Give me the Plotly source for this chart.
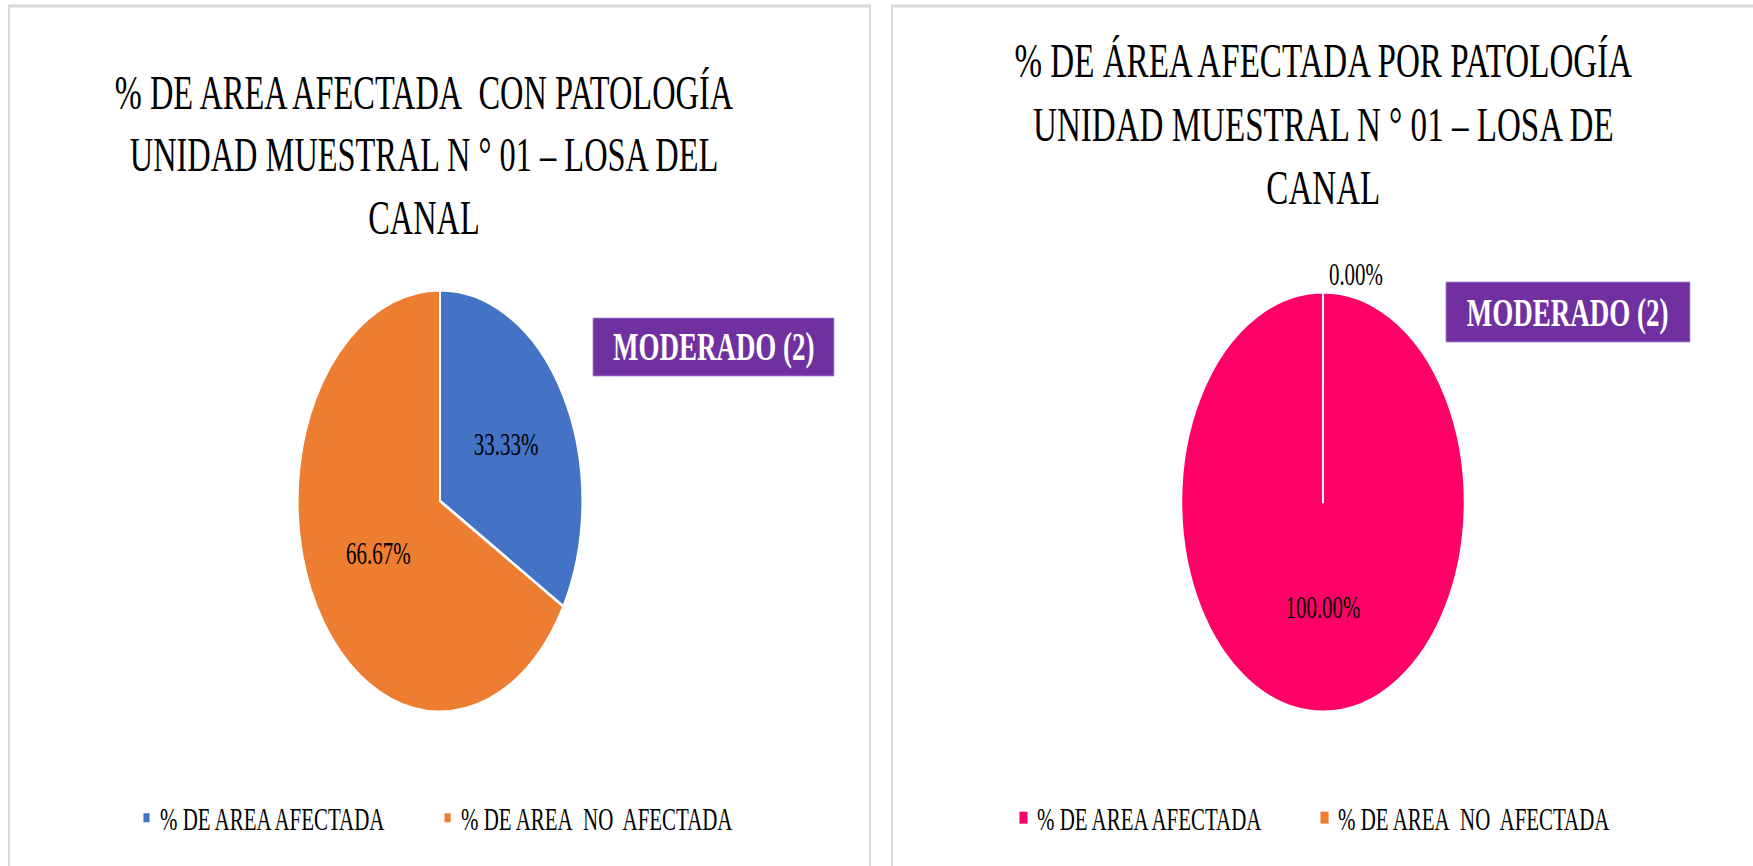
import plotly.graph_objects as go

# ---------------- data ----------------
labels_left = ["% DE AREA AFECTADA", "% DE AREA\u00a0 NO\u00a0 AFECTADA"]
values_left = [33.33, 66.67]
colors_left = ["#4472C4", "#ED7D31"]

labels_right = ["% DE AREA AFECTADA", "% DE AREA\u00a0 NO\u00a0 AFECTADA"]
values_right = [0.0, 100.0]
slice_colors_right = ["#FF0066", "#FF0066"]
legend_colors_right = ["#FF0066", "#ED7D31"]

title_left = "% DE AREA AFECTADA\u00a0 CON PATOLOGÍA<br>UNIDAD MUESTRAL N ° 01 – LOSA DEL<br>CANAL"
title_right = "% DE ÁREA AFECTADA POR PATOLOGÍA<br>UNIDAD MUESTRAL N ° 01 – LOSA DE<br>CANAL"
badge_text = "MODERADO (2)"

# ---------------- layout helpers ----------------
S = 0.675                    # horizontal condensation of the whole picture
FULL_W, H = 1753, 866
W = round(FULL_W / S)
FONT = "Liberation Serif, Times New Roman, serif"


def fx(x):
    return x / FULL_W


def fy(y):
    return 1 - y / H


def pie_domain(cx, cy, d):
    return dict(x=[fx(cx - 200), fx(cx + 200)], y=[fy(cy + d / 2), fy(cy - d / 2)])


# a zero-valued slice is still drawn as a thin separator line (as in the original chart);
# the display minimum stays far below 0.005 % so the label still reads 0.00 %
right_plot_values = [max(v, 0.004) for v in values_right]

fig = go.Figure()

fig.add_trace(go.Pie(
    labels=labels_left, values=values_left, sort=False, direction="clockwise", rotation=0,
    marker=dict(colors=colors_left, line=dict(color="white", width=3)),
    texttemplate="%{percent:.2%}", textposition="inside", insidetextorientation="horizontal",
    textfont=dict(family=FONT, size=31, color="#000000"),
    domain=pie_domain(440, 501, 422), legend="legend", showlegend=True, hoverinfo="label+percent",
))

fig.add_trace(go.Pie(
    labels=labels_right, values=right_plot_values, sort=False, direction="clockwise", rotation=0,
    marker=dict(colors=slice_colors_right, line=dict(color="white", width=3)),
    texttemplate="%{percent:.2%}", textposition=["outside", "inside"],
    insidetextorientation="horizontal",
    textfont=dict(family=FONT, size=31, color="#000000"),
    domain=pie_domain(1323, 502, 420), showlegend=False, hoverinfo="label+percent",
))

for lab, col in zip(labels_right, legend_colors_right):
    fig.add_trace(go.Scatter(
        x=[None], y=[None], mode="markers", name=lab,
        marker=dict(symbol="square", size=12, color=col),
        legend="legend2", showlegend=True, hoverinfo="skip",
    ))

legend_common = dict(orientation="h", yanchor="middle", y=fy(818), xanchor="left",
                     font=dict(family=FONT, size=31, color="#000000"),
                     bgcolor="rgba(0,0,0,0)", entrywidth=401, itemclick=False,
                     itemdoubleclick=False)

shapes = [
    dict(type="rect", xref="paper", yref="paper", x0=fx(9), x1=fx(870), y0=fy(900), y1=fy(6),
         line=dict(color="#D9D9D9", width=3), fillcolor="rgba(0,0,0,0)", layer="below"),
    dict(type="rect", xref="paper", yref="paper", x0=fx(892), x1=fx(1800), y0=fy(900), y1=fy(6),
         line=dict(color="#D9D9D9", width=3), fillcolor="rgba(0,0,0,0)", layer="below"),
    dict(type="rect", xref="paper", yref="paper", x0=fx(593), x1=fx(834), y0=fy(376), y1=fy(318),
         line=dict(color="#A98BCB", width=1), fillcolor="#7030A0", layer="above"),
    dict(type="rect", xref="paper", yref="paper", x0=fx(1446), x1=fx(1690), y0=fy(342), y1=fy(282),
         line=dict(color="#A98BCB", width=1), fillcolor="#7030A0", layer="above"),
]

annotations = [
    dict(text=title_left, x=fx(424), y=fy(155), xref="paper", yref="paper",
         xanchor="center", yanchor="middle", showarrow=False, align="center",
         font=dict(family=FONT, size=48, color="#000000")),
    dict(text=title_right, x=fx(1324), y=fy(124), xref="paper", yref="paper",
         xanchor="center", yanchor="middle", showarrow=False, align="center",
         font=dict(family=FONT, size=49, color="#000000")),
    dict(text=badge_text, x=fx(713.5), y=fy(347), xref="paper", yref="paper",
         xanchor="center", yanchor="middle", showarrow=False,
         font=dict(family=FONT, size=40, color="#FFFFFF", weight="bold")),
    dict(text=badge_text, x=fx(1568), y=fy(312), xref="paper", yref="paper",
         xanchor="center", yanchor="middle", showarrow=False,
         font=dict(family=FONT, size=40, color="#FFFFFF", weight="bold")),
]

fig.update_layout(
    width=W, height=H, margin=dict(l=0, r=0, t=0, b=0),
    paper_bgcolor="white", plot_bgcolor="white",
    xaxis=dict(visible=False), yaxis=dict(visible=False),
    legend=dict(x=fx(133), **legend_common),
    legend2=dict(x=fx(1010), **legend_common),
    shapes=shapes, annotations=annotations,
    font=dict(family=FONT),
)

post_js = """
var gd = document.getElementById('{plot_id}');
document.documentElement.style.overflow = 'hidden';
document.body.style.margin = '0';
document.body.style.overflow = 'hidden';
gd.style.transformOrigin = '0 0';
gd.style.transform = 'scaleX(%s)';
""" % S

fig.write_html("out.html", config={"displayModeBar": False}, post_script=post_js)
